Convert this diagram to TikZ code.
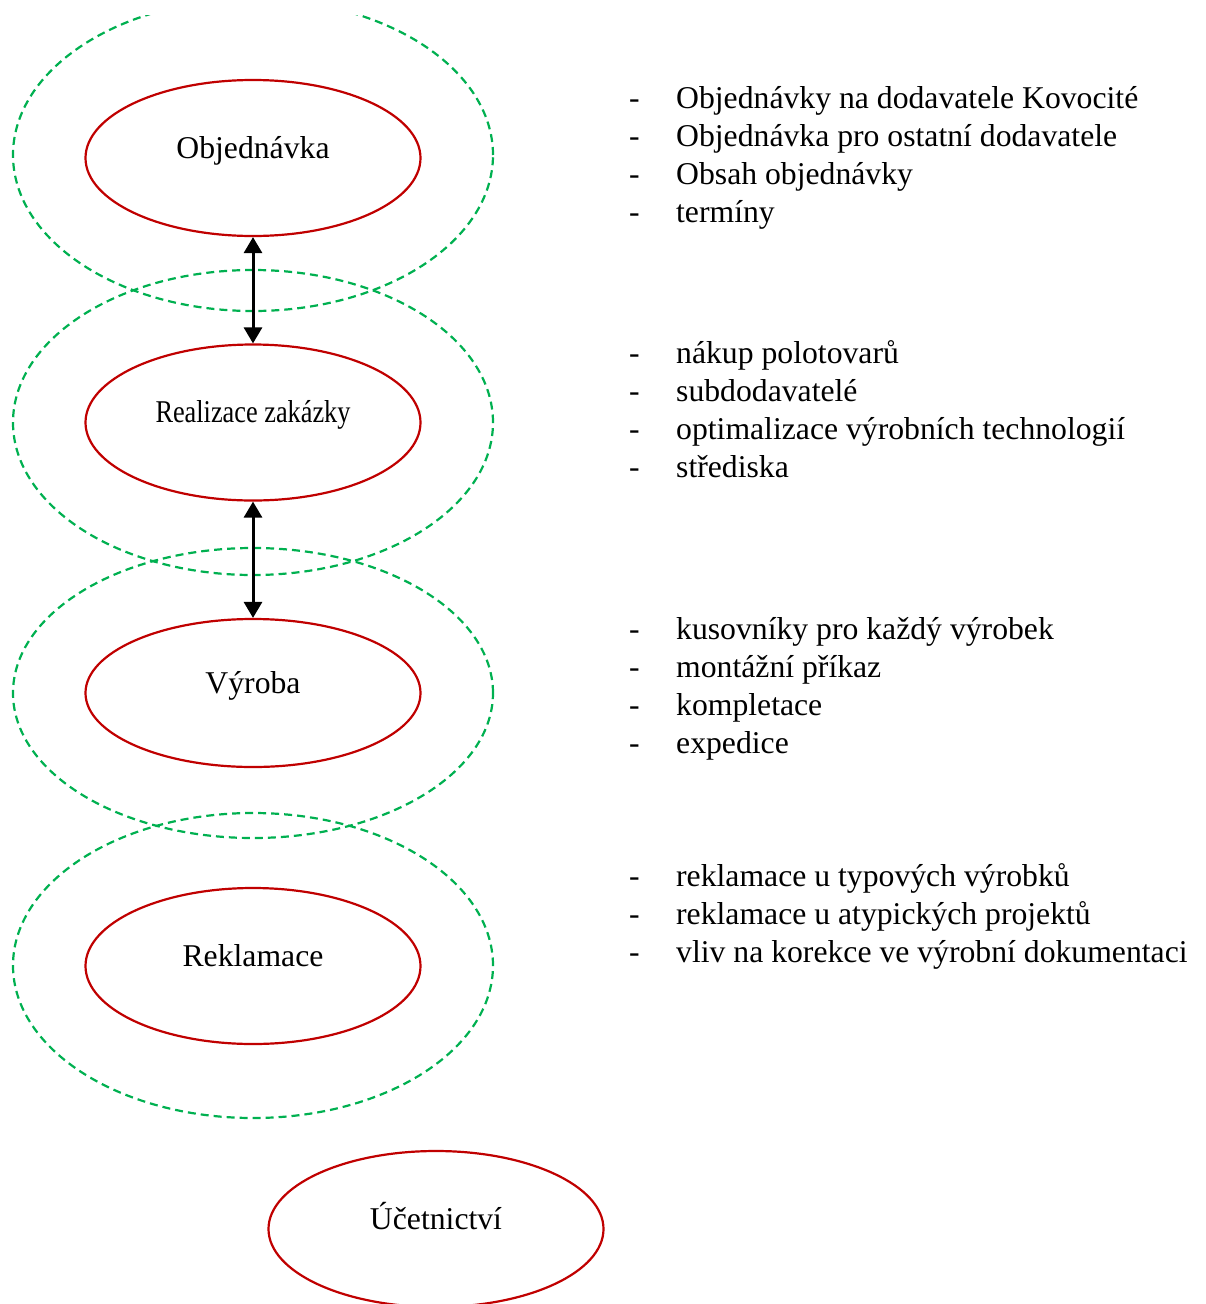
\documentclass[tikz,border=0pt]{standalone}
\usepackage{fontspec}
\setmainfont{Liberation Serif}
\usepackage{graphicx}
\usetikzlibrary{shapes.geometric,arrows.meta}
\definecolor{ered}{HTML}{C00000}
\definecolor{egreen}{HTML}{00B050}
\begin{document}
\begin{tikzpicture}[x=1pt,y=-1pt,
  redell/.style={ellipse,draw=ered,line width=2.2pt,minimum width=335pt,minimum height=156pt,inner sep=0pt,text height=22pt,text depth=22pt,font=\fontsize{31.7}{38}\selectfont},
  grell/.style={ellipse,draw=egreen,line width=2.2pt,dash pattern=on 8pt off 5pt,minimum width=480pt,inner sep=0pt},
  link/.style={line width=3pt,{Triangle[length=16pt,width=18pt]}-{Triangle[length=16pt,width=18pt]}},
  list/.style={anchor=base west,inner sep=0pt,font=\fontsize{31.7}{38}\selectfont}]
\newcommand{\itm}{\makebox[47pt][l]{-}}
\useasboundingbox (0,0) rectangle (1205,1304);
\clip (0,15) rectangle (1205,1304);
% green dashed ellipses
\node[grell,minimum height=312pt] (g1) at (253,155) {};
\node[grell,minimum height=305pt] (g2) at (253,422.5) {};
\node[grell,minimum height=290pt] (g3) at (253,693) {};
\node[grell,minimum height=305pt] (g4) at (253,965.5) {};
% red ellipses
\node[redell] (o1) at (253,158) {Objednávka};
\node[redell] (o2) at (253,422.5) {\scalebox{0.83}[1]{Realizace zakázky}};
\node[redell,minimum height=148pt] (o3) at (253,693) {Výroba};
\node[redell] (o4) at (253,966) {Reklamace};
\node[redell] (o5) at (436,1229) {Účetnictví};
% arrows
\draw[link] (o1.south) -- (o2.north);
\draw[link] (o2.south) -- (o3.north);
% lists
\node[list] (l1) at (629,108) {\begin{tabular}[t]{@{}l@{}l@{}}
\itm & Objednávky na dodavatele Kovocité\\
\itm & Objednávka pro ostatní dodavatele\\
\itm & Obsah objednávky\\
\itm & termíny
\end{tabular}};
\node[list] (l2) at (629,363) {\begin{tabular}[t]{@{}l@{}l@{}}
\itm & nákup polotovarů\\
\itm & subdodavatelé\\
\itm & optimalizace výrobních technologií\\
\itm & střediska
\end{tabular}};
\node[list] (l3) at (629,639) {\begin{tabular}[t]{@{}l@{}l@{}}
\itm & kusovníky pro každý výrobek\\
\itm & montážní příkaz\\
\itm & kompletace\\
\itm & expedice
\end{tabular}};
\node[list] (l4) at (629,886) {\begin{tabular}[t]{@{}l@{}l@{}}
\itm & reklamace u typových výrobků\\
\itm & reklamace u atypických projektů\\
\itm & vliv na korekce ve výrobní dokumentaci
\end{tabular}};
\end{tikzpicture}
\end{document}
